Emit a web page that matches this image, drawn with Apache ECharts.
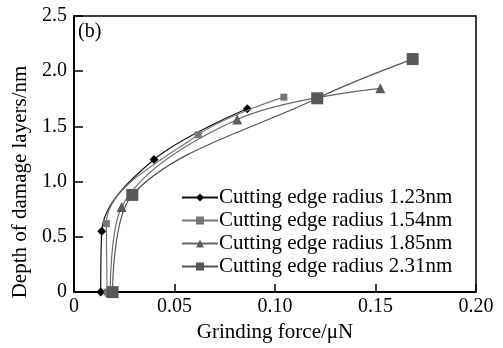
<!DOCTYPE html>
<html>
<head>
<meta charset="utf-8">
<script src="https://cdn.jsdelivr.net/npm/echarts@6/dist/echarts.min.js"></script>
<style>html,body{margin:0;padding:0;background:#fff}#c{width:503px;height:348px}</style>
</head>
<body>
<div id="c"></div>
<script>
const seriesNames = ['Cutting edge radius 1.23nm','Cutting edge radius 1.54nm','Cutting edge radius 1.85nm','Cutting edge radius 2.31nm'];
const force123 = [0.0133, 0.0138, 0.0398, 0.0862];
const depth123 = [0, 0.55, 1.20, 1.66];
const force154 = [0.0165, 0.0161, 0.0618, 0.1044];
const depth154 = [0, 0.62, 1.425, 1.765];
const force185 = [0.0180, 0.0237, 0.0812, 0.1524];
const depth185 = [0, 0.77, 1.563, 1.845];
const force231 = [0.0192, 0.0290, 0.1210, 0.1685];
const depth231 = [0, 0.88, 1.755, 2.11];
const xTicks = [0, 0.05, 0.10, 0.15, 0.20];
const yTicks = [0, 0.5, 1.0, 1.5, 2.0, 2.5];

const font = 'Liberation Serif';
const pairs = (xs, ys) => xs.map((x, i) => [x, ys[i]]);
const styles = [
  {color:'#000000', line:'#111111', symbol:'diamond', size:9},
  {color:'#777777', line:'#777777', symbol:'rect', size:7},
  {color:'#5c5c5c', line:'#6a6a6a', symbol:'triangle', size:10},
  {color:'#585858', line:'#555555', symbol:'rect', size:12}
];
const datas = [pairs(force123, depth123), pairs(force154, depth154), pairs(force185, depth185), pairs(force231, depth231)];

const chart = echarts.init(document.getElementById('c'), null, {renderer:'canvas'});
chart.setOption({
  animation:false,
  backgroundColor:'#fff',
  grid:{left:74, right:27, top:16, bottom:50, show:true, borderColor:'#000', borderWidth:1.5, backgroundColor:'transparent'},
  xAxis:{
    type:'value', min:xTicks[0], max:xTicks[xTicks.length-1], interval:0.05,
    name:'Grinding force/μN', nameLocation:'middle', nameGap:24,
    nameTextStyle:{fontFamily:font, fontSize:21, color:'#000'},
    axisLine:{onZero:false, lineStyle:{color:'#000', width:2}},
    axisTick:{inside:true, length:8, lineStyle:{color:'#000', width:1.5}},
    axisLabel:{fontFamily:font, fontSize:20, color:'#000', margin:5,
      formatter:v => v === 0 ? '0' : v.toFixed(2)},
    splitLine:{show:false}
  },
  yAxis:{
    type:'value', min:yTicks[0], max:yTicks[yTicks.length-1], interval:0.5,
    axisLine:{show:true, onZero:false, lineStyle:{color:'#000', width:2}},
    axisTick:{show:true, inside:true, length:9, lineStyle:{color:'#000', width:1.5}},
    axisLabel:{fontFamily:font, fontSize:20, color:'#000', margin:7,
      formatter:v => v === 0 ? '0' : v.toFixed(1)},
    splitLine:{show:false}
  },
  legend:{
    orient:'vertical', left:181, top:187, padding:0, itemGap:2,
    itemWidth:36, itemHeight:10,
    textStyle:{fontFamily:font, fontSize:21, color:'#000', lineHeight:20, padding:[0,0,0,-4]},
    data:seriesNames
  },
  graphic:[
    {type:'text', left:78, top:22, style:{text:'(b)', font:'20px "Liberation Serif"', fill:'#000'}},
    {type:'text', x:20, y:182, rotation:Math.PI/2,
      style:{text:'Depth of damage layers/nm', font:'21px "Liberation Serif"', fill:'#000', align:'center', verticalAlign:'middle'}}
  ],
  series: datas.map((d, i) => ({
    name:seriesNames[i], type:'line', data:d, smooth:0.35,
    symbol:styles[i].symbol, symbolSize:styles[i].size, showSymbol:true,
    itemStyle:{color:styles[i].color},
    lineStyle:{color:styles[i].line, width:1.2},
    z: 2 + i
  }))
});
</script>
</body>
</html>
